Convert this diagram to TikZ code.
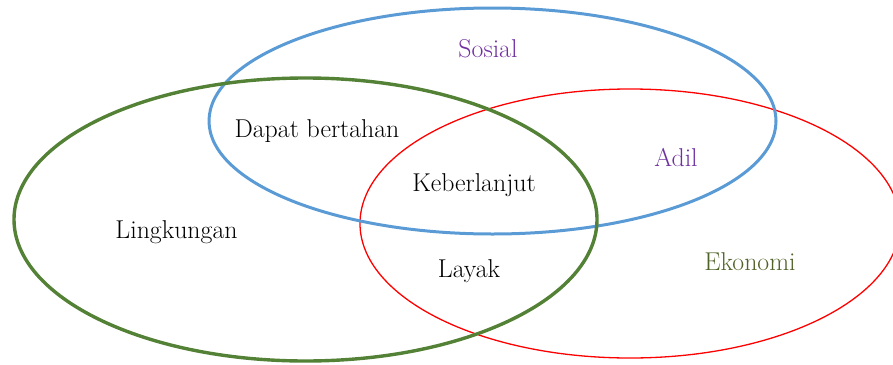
\documentclass[tikz,border=0pt]{standalone}
\usepackage{tikz}
\usetikzlibrary{positioning}
\definecolor{cSosial}{HTML}{5B9BD5}
\definecolor{cLingk}{HTML}{538135}
\definecolor{cEkon}{HTML}{FF0000}
\definecolor{cUngu}{HTML}{7030A0}
\definecolor{cZaitun}{HTML}{4F6228}
\tikzset{
  every picture/.style={x=1pt, y=-1pt},
  eSosial/.style={draw=cSosial, line width=3pt},
  eLingk/.style={draw=cLingk, line width=3.4pt},
  eEkon/.style={draw=cEkon, line width=1.3pt},
  lbl/.style={inner sep=0pt, font=\fontsize{25.8}{29}\selectfont},
}

\begin{document}
\begin{tikzpicture}
\useasboundingbox (0,0) rectangle (893,364);
\clip (0,0) rectangle (893,364);
% the three circles of sustainability
\draw[eEkon] (630,223.5) ellipse [x radius=270, y radius=134.5];
\draw[eSosial] (492.5,121) ellipse [x radius=283.5, y radius=113];
\draw[eLingk] (305.5,219.5) ellipse [x radius=291.5, y radius=141.5];
% labels
\node[lbl, text=cUngu] (sosial) at (488,49) {Sosial};
\node[lbl, text=cUngu] (adil) at (676,157) {Adil};
\node[lbl] (bertahan) at (317,131) {Dapat bertahan};
\node[lbl] (lanjut) at (474,185) {Keberlanjut};
\node[lbl] (lingk) at (176.5,232) {Lingkungan};
\node[lbl] (layak) at (469,271) {Layak};
\node[lbl, text=cZaitun] (ekonomi) at (750,262) {Ekonomi};
\end{tikzpicture}
\end{document}
